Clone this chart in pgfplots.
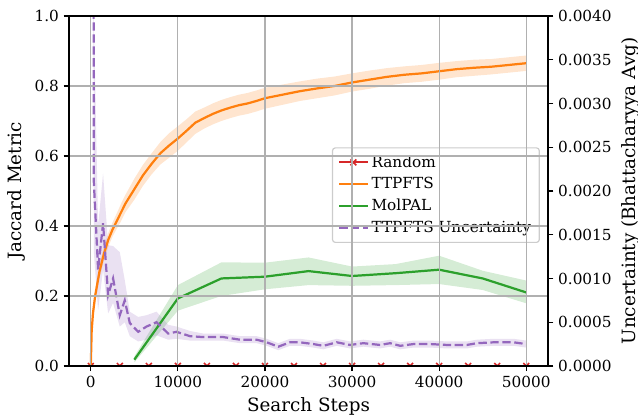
\documentclass[border=0pt]{standalone}
\usepackage{fontspec}
\setmainfont{DejaVu Serif}
\usepackage{pgfplots}
\usepackage{pgfplotstable}
\pgfplotsset{compat=1.18}
\usepgfplotslibrary{fillbetween}

\definecolor{tabred}{HTML}{D62728}
\definecolor{taborange}{HTML}{FF7F0E}
\definecolor{tabgreen}{HTML}{2CA02C}
\definecolor{tabpurple}{HTML}{9467BD}
\definecolor{gridgray}{HTML}{B0B0B0}
\definecolor{legendgray}{HTML}{CCCCCC}

% x  mean  lower  upper
\pgfplotstableread{
x y lo hi
0 0 0 0
100 0.10 0.09 0.11
250 0.15 0.135 0.165
500 0.20 0.18 0.22
1000 0.27 0.25 0.29
1500 0.32 0.30 0.34
2000 0.36 0.34 0.38
2500 0.39 0.37 0.41
3000 0.415 0.393 0.437
3500 0.44 0.415 0.465
4000 0.465 0.44 0.49
5000 0.505 0.475 0.535
6000 0.545 0.515 0.575
7000 0.578 0.548 0.608
8000 0.608 0.576 0.64
9000 0.63 0.595 0.665
10000 0.65 0.615 0.685
11000 0.672 0.639 0.705
12000 0.695 0.663 0.727
13000 0.708 0.678 0.738
14000 0.72 0.69 0.75
15000 0.73 0.70 0.76
16000 0.738 0.708 0.768
17000 0.745 0.715 0.775
18000 0.75 0.72 0.78
19000 0.757 0.727 0.787
20000 0.765 0.735 0.795
22000 0.775 0.746 0.804
24000 0.785 0.757 0.813
26000 0.793 0.765 0.821
28000 0.80 0.773 0.827
30000 0.81 0.784 0.836
32000 0.818 0.792 0.844
34000 0.826 0.801 0.851
36000 0.832 0.808 0.856
38000 0.836 0.812 0.86
40000 0.842 0.818 0.866
42000 0.848 0.825 0.871
44000 0.852 0.829 0.875
46000 0.855 0.833 0.877
48000 0.86 0.838 0.882
50000 0.865 0.843 0.887
}\ttpfts

\pgfplotstableread{
x y lo hi
5000 0.018 0.01 0.027
10000 0.193 0.158 0.231
15000 0.25 0.20 0.296
20000 0.255 0.219 0.295
25000 0.271 0.231 0.31
30000 0.257 0.229 0.284
35000 0.265 0.231 0.291
40000 0.275 0.234 0.315
45000 0.25 0.217 0.272
50000 0.21 0.179 0.244
}\molpal

\pgfplotstableread{
x y lo hi
0 0.030 0.020 0.040
350 0.0021 0.0013 0.0040
840 0.0011 0.00064 0.0016
1410 0.00163 0.0011 0.0022
1990 0.00081 0.00060 0.00138
2560 0.0010 0.00072 0.00137
3330 0.00058 0.00045 0.0013
3900 0.00075 0.00050 0.00098
4480 0.00049 0.00034 0.00062
5440 0.00039 0.00028 0.00056
6400 0.00045 0.00030 0.00058
7550 0.00050 0.00035 0.00062
8890 0.00037 0.00030 0.00047
9850 0.00039 0.00031 0.00045
11380 0.00034 0.00029 0.00040
12900 0.00033 0.00029 0.00037
15200 0.00033 0.00029 0.00037
17130 0.00030 0.00026 0.00034
19050 0.00030 0.00026 0.00034
20200 0.00027 0.00023 0.00031
21530 0.00022 0.00018 0.00026
22870 0.00027 0.00023 0.00031
24020 0.00027 0.00023 0.00031
25550 0.00025 0.00021 0.00029
26700 0.00023 0.00019 0.00027
28240 0.00027 0.00023 0.00031
29770 0.00024 0.00020 0.00028
31300 0.00026 0.00022 0.00030
33220 0.00024 0.00020 0.00028
34370 0.00026 0.00022 0.00030
35520 0.00023 0.00019 0.00027
37050 0.00025 0.00021 0.00029
38970 0.00025 0.00021 0.00029
40890 0.00024 0.00020 0.00028
43190 0.00024 0.00020 0.00028
44330 0.00026 0.00022 0.00030
46240 0.00027 0.00023 0.00031
48540 0.00027 0.00023 0.00031
50000 0.00025 0.00021 0.00029
}\uncert

\pgfplotsset{
  common/.style={
    scale only axis, width=344.9pt, height=252pt,
    xmin=-2500, xmax=52500,
    tick align=outside, major tick length=3.8pt,
    axis line style={line width=0.85pt},
    every tick/.style={black, line width=0.85pt},
    tick label style={font=\fontsize{11}{13}\selectfont},
    label style={font=\fontsize{13.2}{15}\selectfont},
    /pgf/number format/assume math mode=true,
  },
}

\begin{document}
\begin{tikzpicture}
\begin{axis}[common,
    ymin=0, ymax=1,
    xtick={0,10000,20000,30000,40000,50000},
    ytick={0,0.2,0.4,0.6,0.8,1},
    xtick pos=bottom, ytick pos=left,
    scaled x ticks=false,
    xticklabel style={/pgf/number format/1000 sep={}},
    yticklabel style={/pgf/number format/.cd, fixed, fixed zerofill, precision=1},
    grid=major, major grid style={gridgray, line width=0.85pt},
    xlabel={Search Steps}, ylabel={Jaccard Metric},
    clip marker paths=true,
]
\addplot[tabred, line width=1.6pt, mark=x, mark size=3pt, mark options={line width=1.1pt}]
  coordinates {(0,0) (3333.3,0) (6666.7,0) (10000,0) (13333.3,0) (16666.7,0)
  (20000,0) (23333.3,0) (26666.7,0) (30000,0) (33333.3,0) (36666.7,0)
  (40000,0) (43333.3,0) (46666.7,0) (50000,0)};

\addplot[draw=none, name path=olo, forget plot] table[x=x, y=lo] {\ttpfts};
\addplot[draw=none, name path=ohi, forget plot] table[x=x, y=hi] {\ttpfts};
\addplot[taborange, fill opacity=0.2, forget plot] fill between[of=olo and ohi];
\addplot[taborange, line width=1.6pt] table[x=x, y=y] {\ttpfts};

\addplot[draw=none, name path=glo, forget plot] table[x=x, y=lo] {\molpal};
\addplot[draw=none, name path=ghi, forget plot] table[x=x, y=hi] {\molpal};
\addplot[tabgreen, fill opacity=0.2, forget plot] fill between[of=glo and ghi];
\addplot[tabgreen, line width=1.6pt] table[x=x, y=y] {\molpal};
\end{axis}

\begin{axis}[common,
    axis on top,
    ymin=0, ymax=0.004,
    xtick=\empty,
    ytick={0,0.0005,0.001,0.0015,0.002,0.0025,0.003,0.0035,0.004},
    ytick pos=right, yticklabel pos=right,
    scaled y ticks=false,
    yticklabel style={/pgf/number format/.cd, fixed, fixed zerofill, precision=4},
    ylabel={Uncertainty (Bhattacharyya Avg)},
    legend style={at={(0.983,0.488)}, anchor=east, draw=legendgray, rounded corners=2pt,
      fill=white, fill opacity=0.8, text opacity=1, line width=0.85pt,
      font=\fontsize{11}{13}\selectfont, row sep=2pt,
      inner xsep=4pt, inner ysep=3.5pt},
    legend cell align=left,
    legend image code/.code={\draw[mark repeat=2, mark phase=2]
      plot coordinates {(0cm,0cm) (0.36cm,0cm) (0.72cm,0cm)};},
]
\addlegendimage{tabred, line width=1.6pt, mark=x, mark size=3pt, mark options={line width=1.1pt}}
\addlegendentry{Random}
\addlegendimage{taborange, line width=1.6pt}
\addlegendentry{TTPFTS}
\addlegendimage{tabgreen, line width=1.6pt}
\addlegendentry{MolPAL}

\addplot[draw=none, name path=ulo, forget plot] table[x=x, y=lo] {\uncert};
\addplot[draw=none, name path=uhi, forget plot] table[x=x, y=hi] {\uncert};
\addplot[tabpurple, fill opacity=0.2, forget plot] fill between[of=ulo and uhi];
\addplot[tabpurple, line width=1.6pt, dash pattern=on 6pt off 2.6pt] table[x=x, y=y] {\uncert};
\addlegendentry{TTPFTS Uncertainty}
\end{axis}
\pgfresetboundingbox
\path (-49.7pt,-35.3pt) rectangle (409.7pt,263.5pt);
\end{tikzpicture}
\end{document}
